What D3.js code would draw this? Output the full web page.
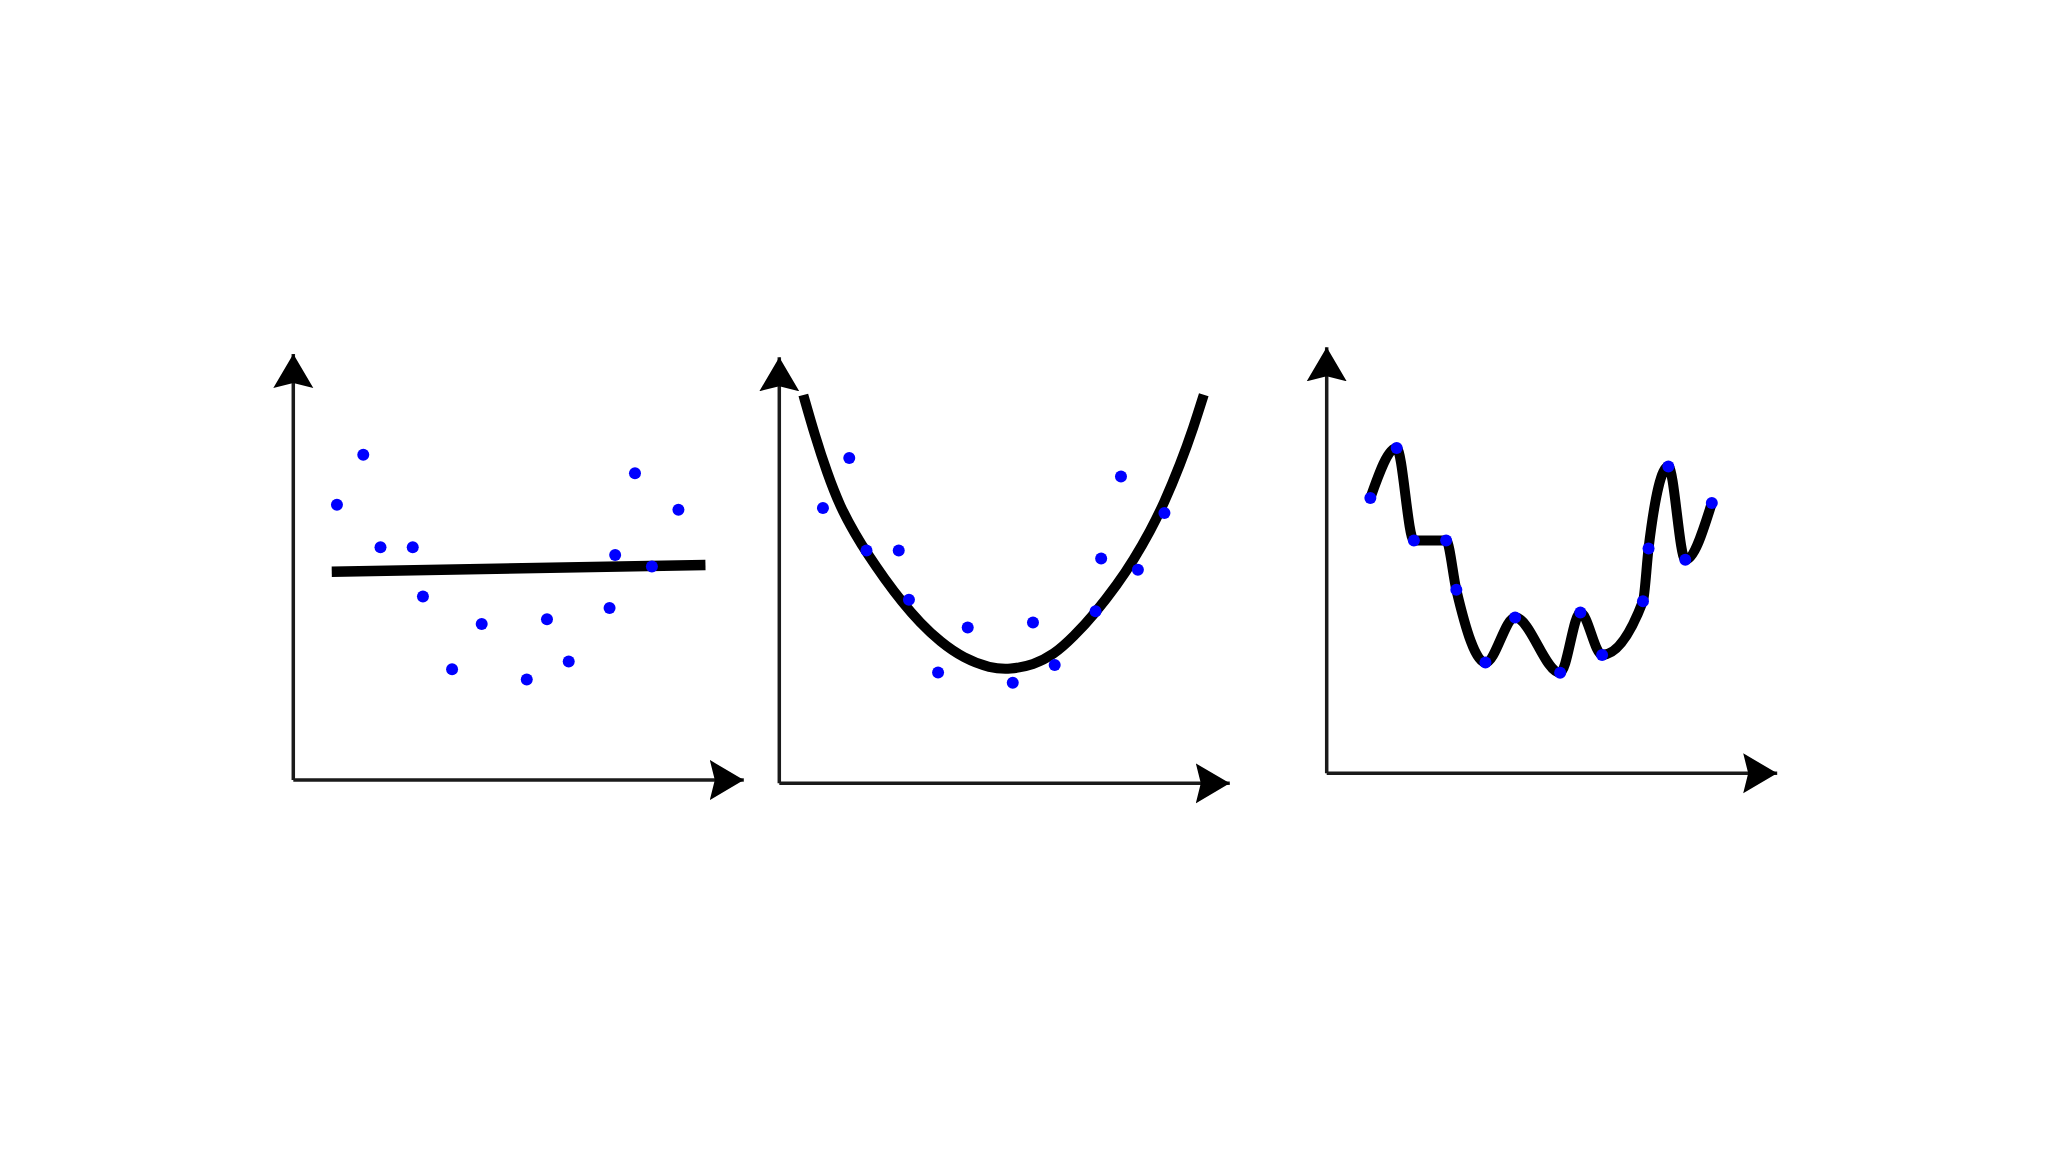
<!DOCTYPE html>
<html>
<head>
<meta charset="utf-8">
<script src="https://cdn.jsdelivr.net/npm/d3@7"></script>
<style>
  html, body { margin: 0; padding: 0; background: #ffffff; }
  svg { display: block; }
</style>
</head>
<body>
<script>
// ---- data (in abstract plot units) ----
const panelNames = ["Underfitting", "Good fit", "Overfitting"];
// sampled observations (same in all three panels)
const dotX = [4.36, 6.99, 8.71, 11.93, 12.95, 15.86, 18.82, 23.32, 25.34, 27.51, 31.59, 32.15, 34.13, 35.82, 38.47];
const dotY = [27.53, 32.52, 23.28, 23.28, 18.35, 11.07, 15.59, 10.05, 16.07, 11.84, 17.2, 22.49, 30.68, 21.35, 27.02];
// panel 1: straight-line fit
const linX = [3.84, 41.17];
const linY = [20.83, 21.5];
// panel 2: U-shaped fit
const quadX = [2.4, 3.57, 4.74, 6.07, 7.57, 8.87, 10.47, 12.27, 14.07, 16.07, 18.4, 21.07, 23.07, 25.4, 27.4, 29.4, 31.57, 33.74, 35.4, 37.07, 38.4, 40.07, 41.4, 42.4];
const quadY = [38.83, 34.73, 31.13, 27.66, 24.93, 22.83, 20.51, 18.11, 16.04, 14.14, 12.51, 11.5, 11.38, 11.85, 12.85, 14.65, 17.04, 19.86, 22.35, 25.27, 27.93, 31.94, 35.66, 38.86];
// axis extents
const xDomain = [0, 45];
const yDomain = [0, 42.6];

const W = 2048, H = 1152;
const svg = d3.select("body").append("svg").attr("width", W).attr("height", H)
  .style("background", "#ffffff");

const defs = svg.append("defs");
defs.append("marker")
  .attr("id", "arrow")
  .attr("markerUnits", "userSpaceOnUse")
  .attr("viewBox", "0 -21 36 42")
  .attr("refX", 34).attr("refY", 0)
  .attr("markerWidth", 36).attr("markerHeight", 42)
  .attr("orient", "auto")
  .append("path")
  .attr("d", "M0,-20 L34,0 L0,20 L5,0 Z")
  .attr("fill", "#000");

const panels = [
  { ox: 293.3, oy: 780.0 },
  { ox: 779.3, oy: 783.3 },
  { ox: 1326.7, oy: 773.3 }
];
const axLenX = 450.5, axLenY = 426;

const dots = dotX.map((x, i) => ({ x, y: dotY[i] }));

panels.forEach((p, pi) => {
  const x = d3.scaleLinear().domain(xDomain).range([p.ox, p.ox + axLenX]);
  const y = d3.scaleLinear().domain(yDomain).range([p.oy, p.oy - axLenY]);
  const g = svg.append("g").attr("class", "panel").attr("aria-label", panelNames[pi]);

  // axes (no ticks), domain paths styled as arrows
  const ax = g.append("g").attr("transform", `translate(0,${p.oy})`)
    .call(d3.axisBottom(x).ticks(0).tickSizeOuter(0));
  const ay = g.append("g").attr("transform", `translate(${p.ox},0)`)
    .call(d3.axisLeft(y).ticks(0).tickSizeOuter(0));
  ay.select(".domain").attr("d", `M0,${y(0)}V${y(yDomain[1])}`);
  ax.select(".domain").attr("d", `M${x(0)},0H${x(xDomain[1])}`);
  [ax, ay].forEach(a => {
    a.select(".domain")
      .attr("stroke", "#1a1a1a")
      .attr("stroke-width", 3.5)
      .attr("marker-end", "url(#arrow)");
  });

  // fit curves
  if (pi === 0) {
    const line = d3.line().x(d => x(d[0])).y(d => y(d[1]));
    g.append("path")
      .datum(linX.map((v, i) => [v, linY[i]]))
      .attr("d", line)
      .attr("fill", "none").attr("stroke", "#000")
      .attr("stroke-width", 10.5).attr("stroke-linecap", "butt");
  } else if (pi === 1) {
    const line = d3.line().x(d => x(d[0])).y(d => y(d[1])).curve(d3.curveBasis);
    g.append("path")
      .datum(quadX.map((v, i) => [v, quadY[i]]))
      .attr("d", line)
      .attr("fill", "none").attr("stroke", "#000")
      .attr("stroke-width", 10).attr("stroke-linecap", "butt");
  } else {
    const line = d3.line().x(d => x(d.x)).y(d => y(d.y)).curve(d3.curveMonotoneX);
    g.append("path")
      .datum(dots)
      .attr("d", line)
      .attr("fill", "none").attr("stroke", "#000")
      .attr("stroke-width", 10).attr("stroke-linecap", "round").attr("stroke-linejoin", "round");
  }

  g.selectAll("circle").data(dots).join("circle")
    .attr("cx", d => x(d.x)).attr("cy", d => y(d.y))
    .attr("r", 6).attr("fill", "#0000ff");
});
</script>
</body>
</html>
